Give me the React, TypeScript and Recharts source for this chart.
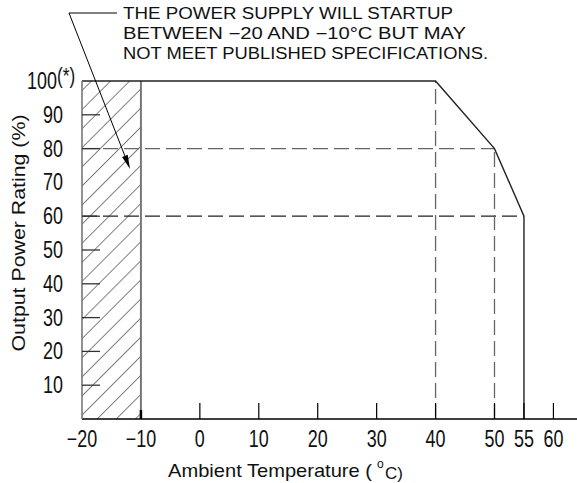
import React from 'react';
import { LineChart, Line, XAxis, YAxis, ReferenceLine, ReferenceArea } from 'recharts';

// ---- data ----
const tempC = [-20, 40, 50, 55, 55];
const powerPct = [100, 100, 80, 60, 0];
const xTickValues = [-20, -10, 0, 10, 20, 30, 40, 50, 55, 60];
const yTickValues = [10, 20, 30, 40, 50, 60, 70, 80, 90, 100];
const yTickMarks = [10, 20, 30, 40, 50, 60, 80, 90];
const startupRange = [-20, -10];
const xDomain = [-20, 64];
const yDomain = [0, 100];
const noteLines = [
  'THE POWER SUPPLY WILL STARTUP',
  'BETWEEN \u221220 AND \u221210\u00B0C BUT MAY',
  'NOT MEET PUBLISHED SPECIFICATIONS.',
];
const xAxisTitle = 'Ambient Temperature (';
const yAxisTitle = 'Output Power Rating (%)';

const data = tempC.map((t, i) => ({ t, p: powerPct[i] }));

const SANS = '"Liberation Sans", Arial, sans-serif';
const SX = 0.78;
const TICK_FS = 23;

const XTick = (props: any) => {
  const { x, y, payload } = props;
  const v = payload.value as number;
  const label = v < 0 ? '\u2212' + Math.abs(v) : String(v);
  const isStart = v === startupRange[1];
  return (
    <g>
      {v !== startupRange[0] && (
        <line
          x1={x}
          x2={x}
          y1={y}
          y2={y - (isStart ? 9 : 16)}
          stroke="#000"
          strokeWidth={isStart ? 2.5 : 1.2}
        />
      )}
      <text
        transform={`translate(${x},${y + 28}) scale(${SX},1)`}
        x={0}
        y={0}
        textAnchor="middle"
        fontFamily={SANS}
        fontSize={TICK_FS}
        fill="#111"
      >
        {label}
      </text>
    </g>
  );
};

const YTick = (props: any) => {
  const { x, y, payload } = props;
  const v = payload.value as number;
  return (
    <g>
      {yTickMarks.includes(v) && (
        <line x1={x} x2={x + 18} y1={y} y2={y} stroke="#333" strokeWidth={1.3} />
      )}
      {v === 100 ? (
        <>
          <text
            transform={`translate(${x - 25},${y + 8}) scale(${SX},1)`}
            textAnchor="end"
            fontFamily={SANS}
            fontSize={TICK_FS}
            fill="#111"
          >
            {v}
          </text>
          <text
            transform={`translate(${x - 25},${y + 2}) scale(${SX},1)`}
            textAnchor="start"
            fontFamily={SANS}
            fontSize={22}
            fill="#111"
          >
            (*)
          </text>
        </>
      ) : (
        <text
          transform={`translate(${x - 19},${y + 8}) scale(${SX},1)`}
          textAnchor="end"
          fontFamily={SANS}
          fontSize={TICK_FS}
          fill="#111"
        >
          {v}
        </text>
      )}
    </g>
  );
};

// arrow geometry for the annotation leader
const leaderStart = { x: 69, y: 13 };
const leaderTip = { x: 130, y: 169 };
const dx = leaderTip.x - leaderStart.x;
const dy = leaderTip.y - leaderStart.y;
const len = Math.sqrt(dx * dx + dy * dy);
const ux = dx / len;
const uy = dy / len;
const headLen = 14;
const headHalf = 3;
const bx = leaderTip.x - ux * headLen;
const by = leaderTip.y - uy * headLen;
const arrowPts = `${leaderTip.x},${leaderTip.y} ${bx + uy * headHalf},${by - ux * headHalf} ${bx - uy * headHalf},${by + ux * headHalf}`;

export default function App() {
  return (
    <div style={{ position: 'absolute', left: 0, top: 0, width: 577, height: 483, background: '#fff' }}>
      <LineChart width={577} height={483} data={data} margin={{ top: 81, right: 0, left: 0, bottom: 0 }}>
        <defs>
          <pattern
            id="hatch"
            patternUnits="userSpaceOnUse"
            width={13.5}
            height={13.5}
            patternTransform="rotate(45)"
          >
            <line x1={0} y1={0} x2={0} y2={13.5} stroke="#000" strokeWidth={1} />
          </pattern>
        </defs>
        <XAxis
          dataKey="t"
          type="number"
          domain={xDomain}
          ticks={xTickValues}
          interval={0}
          height={64}
          tickSize={0}
          tickMargin={0}
          tickLine={false}
          axisLine={{ stroke: '#000', strokeWidth: 1.6 }}
          tick={<XTick />}
          allowDataOverflow
        />
        <YAxis
          type="number"
          domain={yDomain}
          ticks={yTickValues}
          interval={0}
          width={82}
          tickSize={0}
          tickMargin={0}
          tickLine={false}
          axisLine={{ stroke: '#777', strokeWidth: 1.6 }}
          tick={<YTick />}
        />
        <ReferenceArea
          x1={startupRange[0]}
          x2={startupRange[1]}
          y1={yDomain[0]}
          y2={yDomain[1]}
          fill="url(#hatch)"
          fillOpacity={1}
          stroke="none"
        />
        <ReferenceLine
          segment={[{ x: startupRange[1], y: yDomain[0] }, { x: startupRange[1], y: yDomain[1] }]}
          stroke="#777"
          strokeWidth={2}
        />
        <ReferenceLine
          segment={[{ x: tempC[0], y: powerPct[2] }, { x: tempC[2], y: powerPct[2] }]}
          stroke="#666"
          strokeWidth={1.3}
          strokeDasharray="15 6"
        />
        <ReferenceLine
          segment={[{ x: tempC[0], y: powerPct[3] }, { x: tempC[3], y: powerPct[3] }]}
          stroke="#222"
          strokeWidth={1.3}
          strokeDasharray="15 6"
        />
        <ReferenceLine
          segment={[{ x: tempC[1], y: yDomain[0] }, { x: tempC[1], y: powerPct[1] }]}
          stroke="#666"
          strokeWidth={1.3}
          strokeDasharray="15 6"
        />
        <ReferenceLine
          segment={[{ x: tempC[2], y: yDomain[0] }, { x: tempC[2], y: powerPct[2] }]}
          stroke="#666"
          strokeWidth={1.3}
          strokeDasharray="15 6"
        />
        <Line
          dataKey="p"
          type="linear"
          stroke="#222"
          strokeWidth={1.4}
          dot={false}
          activeDot={false}
          isAnimationActive={false}
        />
      </LineChart>
      <svg
        width={577}
        height={483}
        style={{ position: 'absolute', left: 0, top: 0, pointerEvents: 'none' }}
      >
        {noteLines.map((s, i) => (
          <text
            key={i}
            x={123}
            y={19 + i * 20}
            fontFamily={SANS}
            fontSize={16}
            fill="#111"
            textLength={[330, 343, 365][i]}
            lengthAdjust="spacingAndGlyphs"
          >
            {s}
          </text>
        ))}
        <line x1={leaderStart.x} y1={leaderStart.y} x2={117} y2={leaderStart.y} stroke="#000" strokeWidth={1} />
        <line x1={leaderStart.x} y1={leaderStart.y} x2={bx} y2={by} stroke="#000" strokeWidth={1} />
        <polygon points={arrowPts} fill="#000" />
        <text
          transform="translate(25,233) rotate(-90)"
          x={0}
          y={0}
          textAnchor="middle"
          fontFamily={SANS}
          fontSize={19}
          fill="#111"
          textLength={237}
          lengthAdjust="spacingAndGlyphs"
        >
          {yAxisTitle}
        </text>
        <text
          x={168}
          y={477}
          fontFamily={SANS}
          fontSize={19}
          fill="#111"
          textLength={204}
          lengthAdjust="spacingAndGlyphs"
        >
          {xAxisTitle}
        </text>
        <text x={377} y={468} fontFamily={SANS} fontSize={12} fill="#111">
          o
        </text>
        <text x={385} y={479} fontFamily={SANS} fontSize={17} fill="#111">
          C)
        </text>
      </svg>
    </div>
  );
}
